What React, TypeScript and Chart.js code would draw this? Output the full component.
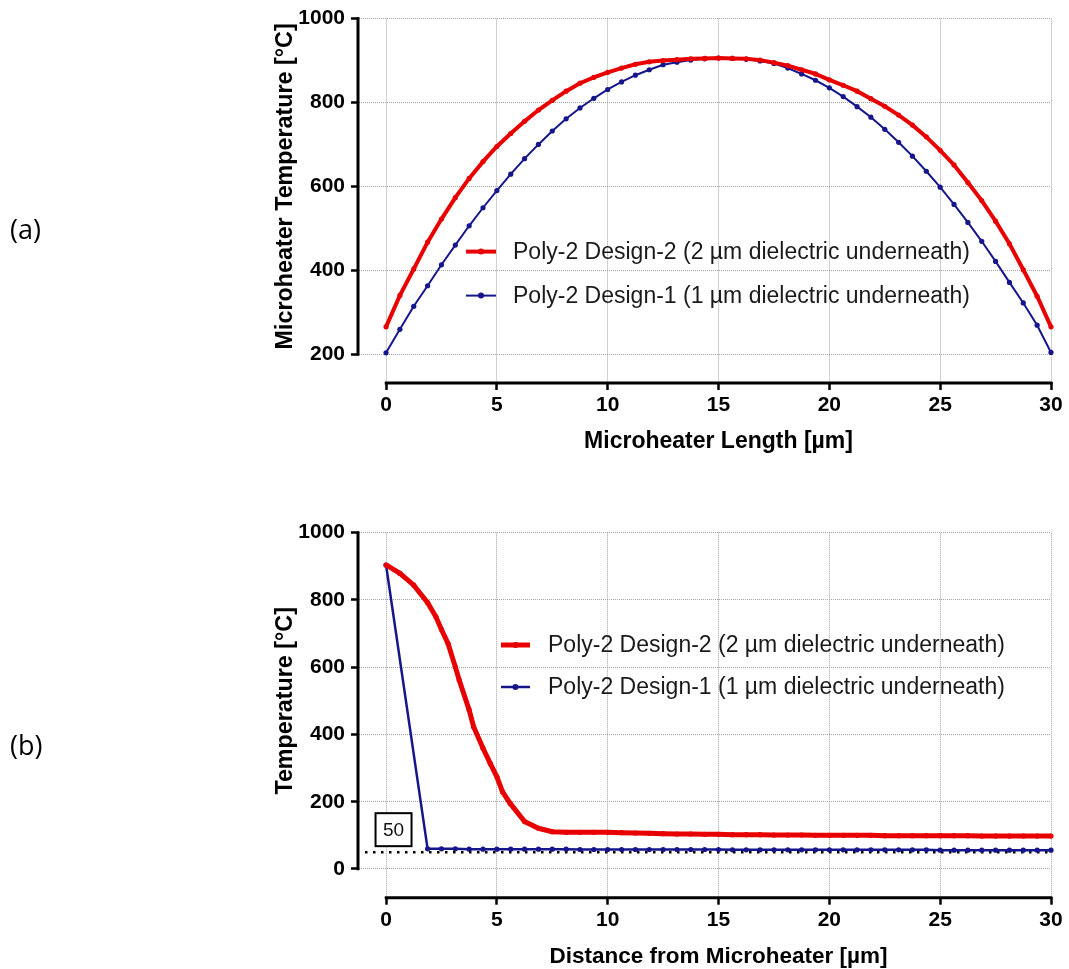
import React, { useEffect, useRef } from "react";
import { Chart, registerables } from "chart.js";

Chart.register(...registerables);

// ---------- Data: panel (a) ----------
const lengthX = [
  0, 0.625, 1.25, 1.875, 2.5, 3.125, 3.75, 4.375, 5, 5.625, 6.25, 6.875, 7.5, 8.125, 8.75, 9.375, 10,
  10.625, 11.25, 11.875, 12.5, 13.125, 13.75, 14.375, 15, 15.625, 16.25, 16.875, 17.5, 18.125, 18.75,
  19.375, 20, 20.625, 21.25, 21.875, 22.5, 23.125, 23.75, 24.375, 25, 25.625, 26.25, 26.875, 27.5,
  28.125, 28.75, 29.375, 30,
];
const lengthTempDesign2 = [
  265, 340, 403, 467, 522, 573, 619, 659, 695, 726, 755, 782, 805, 827, 846, 860, 872, 882, 891, 897,
  900, 902, 904, 905, 906, 905, 904, 901, 895, 888, 878, 868, 854, 841, 827, 809, 791, 770, 746, 718,
  686, 651, 609, 566, 517, 463, 401, 338, 265,
];
const lengthTempDesign1 = [
  203, 259, 314, 363, 413, 460, 506, 549, 590, 629, 666, 700, 732, 761, 787, 810, 831, 849, 865, 878,
  890, 896, 901, 904, 906, 905, 903, 899, 893, 882, 868, 853, 835, 814, 790, 765, 736, 705, 672, 636,
  598, 557, 514, 469, 421, 371, 322, 269, 204,
];

// ---------- Data: panel (b) ----------
const distXDesign2 = [
  0, 0.625, 1.25, 1.875, 2.25, 2.5, 2.8, 3.125, 3.3, 3.75, 3.95, 4.375, 4.7, 5, 5.25, 5.6, 6.25,
  6.875, 7.5, 8.125, 8.75, 9.375, 10, 10.625, 11.25, 11.875, 12.5, 13.125, 13.75, 14.375, 15, 15.625,
  16.25, 16.875, 17.5, 18.125, 18.75, 19.375, 20, 20.625, 21.25, 21.875, 22.5, 23.125, 23.75, 24.375,
  25, 25.625, 26.25, 26.875, 27.5, 28.125, 28.75, 29.375, 30,
];
const distTempDesign2 = [
  904, 879, 844, 792, 750, 712, 670, 601, 562, 473, 423, 359, 314, 274, 230, 195, 141,
  121, 111, 109, 109, 109, 109, 108, 107, 106, 105, 104, 104, 103, 103, 102, 102, 102, 101, 101, 101,
  100, 100, 100, 100, 100, 99, 99, 99, 99, 99, 99, 99, 98, 98, 98, 98, 98, 98,
];
const distXDesign1 = [
  0, 1.875, 2.5, 3.125, 3.75, 4.375, 5, 5.625, 6.25, 6.875, 7.5, 8.125, 8.75, 9.375, 10, 10.625,
  11.25, 11.875, 12.5, 13.125, 13.75, 14.375, 15, 15.625, 16.25, 16.875, 17.5, 18.125, 18.75, 19.375,
  20, 20.625, 21.25, 21.875, 22.5, 23.125, 23.75, 24.375, 25, 25.625, 26.25, 26.875, 27.5, 28.125,
  28.75, 29.375, 30,
];
const distTempDesign1 = [
  904, 60, 60, 60, 59, 59, 59, 59, 59, 59, 59, 59, 58, 58, 58, 58, 58, 58, 58, 58, 58, 58, 58, 57, 57,
  57, 57, 57, 57, 57, 57, 57, 57, 57, 57, 57, 57, 57, 56, 56, 56, 56, 56, 56, 56, 56, 56,
];

// ---------- Axes / labels ----------
const xTicks = [0, 5, 10, 15, 20, 25, 30];
const yTicksA = [200, 400, 600, 800, 1000];
const yTicksB = [0, 200, 400, 600, 800, 1000];
const referenceLevel = 50;
const seriesLabels = [
  "Poly-2 Design-2 (2 µm dielectric underneath)",
  "Poly-2 Design-1 (1 µm dielectric underneath)",
];
const titlesA = { x: "Microheater Length [µm]", y: "Microheater Temperature [°C]" };
const titlesB = { x: "Distance from Microheater [µm]", y: "Temperature [°C]" };

const RED = "rgb(232,0,0)";
const BLUE = "rgb(22,22,140)";
const FONT = "'Liberation Sans', Arial, Helvetica, sans-serif";

const toPts = (xs: number[], ys: number[]) => xs.map((x, i) => ({ x, y: ys[i] }));

type OverlayCfg = {
  xTitle: string;
  yTitle: string;
  xTitleSize: number;
  yAxisMin: number;
  yAxisMax: number;
  legendLeft: number;
  legendTop: number;
  legendGap: number;
  legendLen: number;
  legendTextGap: number;
  reference?: number;
};

function makeOverlay(cfg: OverlayCfg) {
  return {
    id: "overlay",
    beforeDatasetsDraw(chart: any) {
      if (cfg.reference === undefined) return;
      const { ctx, chartArea, scales } = chart;
      const x = scales.x;
      const y = scales.y;
      const py = y.getPixelForValue(cfg.reference);
      ctx.save();
      ctx.strokeStyle = "#000";
      ctx.lineWidth = 2.5;
      ctx.setLineDash([2.5, 5.5]);
      ctx.beginPath();
      ctx.moveTo(chartArea.left + 6, py);
      ctx.lineTo(x.getPixelForValue(xTicks[xTicks.length - 1]), py);
      ctx.stroke();
      ctx.restore();
    },
    afterDraw(chart: any) {
      const { ctx, chartArea, scales } = chart;
      const x = scales.x;
      const y = scales.y;
      const x0 = x.getPixelForValue(xTicks[0]);
      const x1 = x.getPixelForValue(xTicks[xTicks.length - 1]);
      const yTop = y.getPixelForValue(cfg.yAxisMax);
      const yBot = y.getPixelForValue(cfg.yAxisMin);
      ctx.save();
      // axis lines (offset style)
      ctx.strokeStyle = "#000";
      ctx.lineWidth = 3;
      ctx.setLineDash([]);
      ctx.beginPath();
      ctx.moveTo(chartArea.left - 1, yTop - 1.3);
      ctx.lineTo(chartArea.left - 1, yBot + 1.3);
      ctx.stroke();
      ctx.beginPath();
      ctx.moveTo(x0 - 1.3, chartArea.bottom + 1);
      ctx.lineTo(x1 + 1.3, chartArea.bottom + 1);
      ctx.stroke();

      // axis titles
      ctx.fillStyle = "#000";
      ctx.textAlign = "center";
      ctx.textBaseline = "middle";
      ctx.font = `bold ${cfg.xTitleSize}px ${FONT}`;
      ctx.fillText(cfg.xTitle, (x0 + x1) / 2, chartArea.bottom + 60);
      ctx.save();
      ctx.font = `bold 23.3px ${FONT}`;
      ctx.translate(chartArea.left - 73, (yTop + yBot) / 2);
      ctx.rotate(-Math.PI / 2);
      ctx.fillText(cfg.yTitle, 0, 0);
      ctx.restore();

      // legend
      chart.data.datasets.forEach((ds: any, i: number) => {
        const ly = chartArea.top + cfg.legendTop + i * cfg.legendGap;
        const lx = chartArea.left + cfg.legendLeft;
        ctx.strokeStyle = ds.borderColor;
        ctx.lineWidth = ds.borderWidth;
        ctx.beginPath();
        ctx.moveTo(lx, ly);
        ctx.lineTo(lx + cfg.legendLen, ly);
        ctx.stroke();
        ctx.fillStyle = ds.borderColor;
        ctx.beginPath();
        ctx.arc(lx + cfg.legendLen / 2, ly, 3, 0, Math.PI * 2);
        ctx.fill();
        ctx.fillStyle = "#1a1a1a";
        ctx.font = `23px ${FONT}`;
        ctx.textAlign = "left";
        ctx.textBaseline = "middle";
        ctx.fillText(ds.label, lx + cfg.legendLen + cfg.legendTextGap, ly + 1);
      });

      // reference label box
      if (cfg.reference !== undefined) {
        const py = y.getPixelForValue(cfg.reference);
        const bw = 36;
        const bh = 33;
        const cx = x0 + 7.5;
        const bx = cx - bw / 2;
        const by = py - 6 - bh;
        ctx.fillStyle = "#fff";
        ctx.fillRect(bx, by, bw, bh);
        ctx.strokeStyle = "#000";
        ctx.lineWidth = 2;
        ctx.strokeRect(bx, by, bw, bh);
        ctx.fillStyle = "#111";
        ctx.font = `19px ${FONT}`;
        ctx.textAlign = "center";
        ctx.textBaseline = "middle";
        ctx.fillText(String(cfg.reference), cx, by + bh / 2 + 1);
      }
      ctx.restore();
    },
  };
}

function makeConfig(opts: {
  datasets: any[];
  yMin: number;
  yMax: number;
  yTicks: number[];
  padTop: number;
  xHeight: number;
  overlay: OverlayCfg;
}) {
  const tickFont = { family: FONT, size: 21, weight: "bold" as const };
  const plain = (v: any) => String(v);
  return {
    type: "line" as const,
    data: { datasets: opts.datasets },
    options: {
      responsive: false,
      animation: false as const,
      devicePixelRatio: 1,
      layout: { padding: { top: opts.padTop, right: 18, left: 0, bottom: 0 } },
      plugins: { legend: { display: false }, tooltip: { enabled: false } },
      elements: { line: { tension: 0 } },
      scales: {
        x: {
          type: "linear" as const,
          min: -1.22,
          max: 30,
          afterBuildTicks: (s: any) => {
            s.ticks = xTicks.map((v) => ({ value: v }));
          },
          afterFit: (s: any) => {
            s.height = opts.xHeight;
          },
          grid: {
            color: "#a3a3a3",
            lineWidth: 1,
            tickColor: "#000",
            tickWidth: 2.5,
            tickLength: 8,
            tickBorderDash: [],
          },
          border: { display: false, dash: [1, 1] },
          ticks: {
            color: "#000",
            font: tickFont,
            padding: 3,
            maxRotation: 0,
            autoSkip: false,
            callback: plain,
          },
        },
        y: {
          type: "linear" as const,
          min: opts.yMin,
          max: opts.yMax,
          afterBuildTicks: (s: any) => {
            s.ticks = opts.yTicks.map((v) => ({ value: v }));
          },
          afterFit: (s: any) => {
            s.width = 359;
          },
          grid: {
            color: "#a3a3a3",
            lineWidth: 1,
            tickColor: "#000",
            tickWidth: 2.5,
            tickLength: 8,
            tickBorderDash: [],
          },
          border: { display: false, dash: [1, 1] },
          ticks: { color: "#000", font: tickFont, padding: 6, autoSkip: false, callback: plain },
        },
      },
    },
    plugins: [makeOverlay(opts.overlay)],
  };
}

const configA = makeConfig({
  datasets: [
    {
      label: seriesLabels[0],
      data: toPts(lengthX, lengthTempDesign2),
      borderColor: RED,
      backgroundColor: RED,
      borderWidth: 4,
      pointRadius: 2.6,
      pointBorderWidth: 0,
      pointBackgroundColor: RED,
      clip: false,
    },
    {
      label: seriesLabels[1],
      data: toPts(lengthX, lengthTempDesign1),
      borderColor: BLUE,
      backgroundColor: BLUE,
      borderWidth: 2,
      pointRadius: 2.6,
      pointBorderWidth: 0,
      pointBackgroundColor: BLUE,
      clip: false,
    },
  ],
  yMin: 133.5,
  yMax: 1000,
  yTicks: yTicksA,
  padTop: 17,
  xHeight: 88,
  overlay: {
    xTitle: titlesA.x,
    yTitle: titlesA.y,
    xTitleSize: 23,
    yAxisMin: yTicksA[0],
    yAxisMax: yTicksA[yTicksA.length - 1],
    legendLeft: 107,
    legendTop: 233,
    legendGap: 44,
    legendLen: 30,
    legendTextGap: 17,
  },
});

const configB = makeConfig({
  datasets: [
    {
      label: seriesLabels[0],
      data: toPts(distXDesign2, distTempDesign2),
      borderColor: RED,
      backgroundColor: RED,
      borderWidth: 5,
      pointRadius: 2.6,
      pointBorderWidth: 0,
      pointBackgroundColor: RED,
      clip: false,
    },
    {
      label: seriesLabels[1],
      data: toPts(distXDesign1, distTempDesign1),
      borderColor: BLUE,
      backgroundColor: BLUE,
      borderWidth: 2.5,
      pointRadius: 2.6,
      pointBorderWidth: 0,
      pointBackgroundColor: BLUE,
      clip: false,
    },
  ],
  yMin: -82.4,
  yMax: 1000,
  yTicks: yTicksB,
  padTop: 42.7,
  xHeight: 72.3,
  overlay: {
    xTitle: titlesB.x,
    yTitle: titlesB.y,
    xTitleSize: 22.5,
    yAxisMin: yTicksB[0],
    yAxisMax: yTicksB[yTicksB.length - 1],
    legendLeft: 142,
    legendTop: 112.3,
    legendGap: 42,
    legendLen: 29,
    legendTextGap: 18,
    reference: referenceLevel,
  },
});

export default function App() {
  const refA = useRef<HTMLCanvasElement>(null);
  const refB = useRef<HTMLCanvasElement>(null);

  useEffect(() => {
    const a = new Chart(refA.current as HTMLCanvasElement, configA as any);
    const b = new Chart(refB.current as HTMLCanvasElement, configB as any);
    return () => {
      a.destroy();
      b.destroy();
    };
  }, []);

  const panelLabel: React.CSSProperties = {
    position: "absolute",
    left: 10,
    fontFamily: "'Open Sans', 'Noto Sans', sans-serif",
    fontSize: 27,
    lineHeight: "27px",
    color: "#000",
  };

  return (
    <div
      style={{
        position: "fixed",
        left: 0,
        top: 0,
        width: 1069,
        height: 969,
        background: "#fff",
        overflow: "hidden",
      }}
    >
      <canvas
        ref={refA}
        width={1069}
        height={470}
        style={{ position: "absolute", left: 0, top: 0, width: 1069, height: 470 }}
      />
      <canvas
        ref={refB}
        width={1069}
        height={479}
        style={{ position: "absolute", left: 0, top: 490, width: 1069, height: 479 }}
      />
      <div style={{ ...panelLabel, top: 215 }}>(a)</div>
      <div style={{ ...panelLabel, top: 731 }}>(b)</div>
    </div>
  );
}
